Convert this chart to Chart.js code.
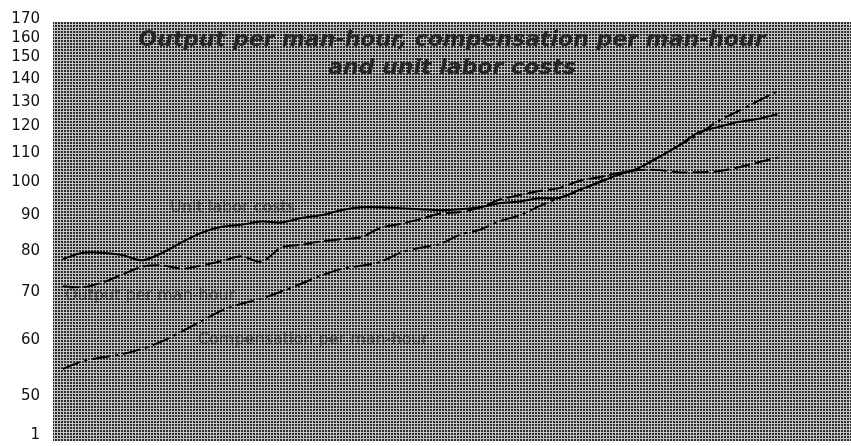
<!DOCTYPE html>
<html>
<head>
<meta charset="utf-8">
<script src="https://cdn.jsdelivr.net/npm/chart.js@4/dist/chart.umd.min.js"></script>
<style>
html,body{margin:0;padding:0;background:#fff;}
#wrap{width:851px;height:446px;}
</style>
</head>
<body>
<div id="wrap"><canvas id="c" width="851" height="446"></canvas></div>
<script>
// ---- data (half-year periods, index 1967 = 100) ----
const titleLines = ['Output per man-hour, compensation per man-hour', 'and unit labor costs'];
const periods = ['P1','P2','P3','P4','P5','P6','P7','P8','P9','P10','P11','P12','P13','P14','P15','P16','P17','P18','P19','P20','P21','P22','P23','P24','P25','P26','P27','P28','P29','P30','P31','P32','P33','P34','P35','P36','P37'];
const unitLaborCosts = [78.0, 79.6, 79.6, 79.0, 77.7, 79.6, 82.4, 85.0, 86.6, 87.2, 88.1, 87.8, 89.1, 89.9, 91.4, 92.3, 92.3, 92.0, 91.7, 91.4, 91.7, 92.3, 93.5, 94.0, 95.0, 95.1, 97.6, 100.0, 102.6, 104.8, 108.5, 112.6, 117.6, 119.7, 121.7, 122.9, 124.8];
const outputPerManHour = [71.4, 71.2, 72.3, 74.2, 76.1, 76.4, 75.6, 76.4, 77.5, 78.7, 77.3, 81.0, 81.7, 82.6, 83.2, 83.7, 86.3, 87.4, 88.8, 90.4, 90.9, 92.2, 94.6, 96.0, 97.3, 98.2, 100.5, 101.7, 103.1, 104.1, 104.1, 103.4, 103.4, 103.7, 105.0, 106.7, 108.4];
const compensationPerManHour = [54.6, 56.0, 56.7, 57.3, 58.3, 59.7, 61.7, 63.8, 66.0, 67.5, 68.6, 70.2, 72.0, 73.9, 75.5, 76.3, 77.3, 79.6, 80.9, 81.9, 84.4, 85.8, 88.2, 89.9, 92.6, 95.1, 97.3, 100.2, 102.6, 104.8, 108.5, 112.6, 116.8, 122.0, 126.0, 130.2, 134.5];
const yTickValues = [50, 60, 70, 80, 90, 100, 110, 120, 130, 140, 150, 160, 170];
const yBreakLabel = '1';
const seriesNames = ['Unit labor costs', 'Output per man-hour', 'Compensation per man-hour'];

// ---- layout / style (kept apart from the data) ----
const Y_MIN = 43.5, Y_MAX = 170, Y_BREAK_AT = 44;
const X_MIN = -0.5, X_MAX = 39.7;
const labelAnchors = [ // [period index, value] where each series label starts
  [5.4, 92.2],
  [0.1, 69.2],
  [6.8, 60.0]
];

const toXY = arr => arr.map((v, i) => ({x: i, y: v}));

function makePattern() {
  const pc = document.createElement('canvas');
  pc.width = 3; pc.height = 3;
  const p = pc.getContext('2d');
  p.fillStyle = '#2c2c2c'; p.fillRect(0, 0, 3, 3);
  p.fillStyle = '#c4c4c4'; p.fillRect(0, 0, 3, 1); p.fillRect(0, 0, 1, 3);
  return pc;
}

const backgroundPlugin = {
  id: 'halftoneBg',
  beforeDatasetsDraw(chart) {
    const {ctx, chartArea: a} = chart;
    ctx.save();
    ctx.fillStyle = ctx.createPattern(makePattern(), 'repeat');
    ctx.fillRect(a.left, a.top + 3, a.right - a.left, a.bottom - a.top - 1);
    // title inside plot
    ctx.fillStyle = '#262626';
    ctx.font = 'italic bold 22px "DejaVu Sans"';
    ctx.textAlign = 'center';
    ctx.textBaseline = 'alphabetic';
    const cx = (a.left + a.right) / 2;
    ctx.fillText(titleLines[0], cx, a.top + 27);
    ctx.fillText(titleLines[1], cx, a.top + 55);
    // series labels
    ctx.font = '16px "DejaVu Sans"';
    ctx.fillStyle = 'rgba(25,25,25,0.55)';
    ctx.textAlign = 'left';
    ctx.textBaseline = 'middle';
    const xs = chart.scales.x, ys = chart.scales.y;
    seriesNames.forEach((name, k) => {
      ctx.fillText(name, xs.getPixelForValue(labelAnchors[k][0]), ys.getPixelForValue(labelAnchors[k][1]));
    });
    ctx.restore();
  }
};

const common = {borderColor: '#000', borderWidth: 2, pointRadius: 0, fill: false, tension: 0.3};

new Chart(document.getElementById('c'), {
  type: 'line',
  data: {
    labels: periods,
    datasets: [
      Object.assign({label: seriesNames[0], data: toXY(unitLaborCosts)}, common),
      Object.assign({label: seriesNames[1], data: toXY(outputPerManHour), borderDash: [16, 5]}, common),
      Object.assign({label: seriesNames[2], data: toXY(compensationPerManHour), borderDash: [18, 5, 3, 5]}, common)
    ]
  },
  options: {
    responsive: false,
    animation: false,
    devicePixelRatio: 1,
    layout: {padding: {top: 19, bottom: 7, left: 0, right: 0}},
    plugins: {legend: {display: false}, tooltip: {enabled: false}, title: {display: false}},
    scales: {
      x: {type: 'linear', display: false, min: X_MIN, max: X_MAX},
      y: {
        type: 'logarithmic', min: Y_MIN, max: Y_MAX,
        afterBuildTicks: s => { s.ticks = [Y_BREAK_AT].concat(yTickValues).map(v => ({value: v})); },
        afterFit: s => { s.width = 53; s.paddingTop = 0; s.paddingBottom = 0; },
        grid: {display: false, drawTicks: false},
        border: {display: false},
        ticks: {
          padding: 13, color: '#111', autoSkip: false,
          font: {family: 'DejaVu Sans', size: 15},
          callback: v => (v === Y_BREAK_AT ? yBreakLabel : String(v))
        }
      }
    }
  },
  plugins: [backgroundPlugin]
});
</script>
</body>
</html>
